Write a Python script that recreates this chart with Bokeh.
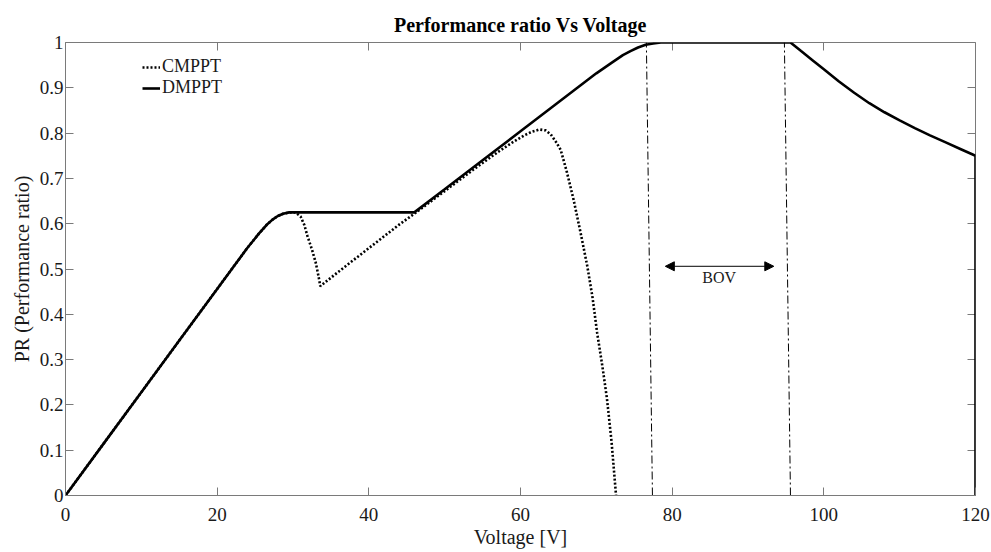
import numpy as np
from bokeh.plotting import figure
from bokeh.models import (LinearAxis, Range1d, Arrow, NormalHead, Legend, LegendItem,
                          FixedTicker, Label, NumeralTickFormatter, CustomLabelingPolicy)
from bokeh.embed import file_html
from bokeh.resources import INLINE

# ---------------- data ----------------
dmppt_v = [0, 5, 10, 15, 20, 24, 25.5, 26.5, 27.3, 28, 28.7, 29.5,
           46, 50, 55, 60, 65, 70, 72, 73.5, 74.5, 75.5, 76.5, 77.5, 78.5,
           95.6, 97, 98.5, 100, 102, 104, 106, 108, 110, 112, 114, 116, 118, 120, 120]
dmppt_pr = [0, 0.114, 0.228, 0.342, 0.456, 0.547, 0.578, 0.597, 0.609, 0.617, 0.622, 0.625,
            0.625, 0.676, 0.740, 0.804, 0.868, 0.932, 0.955, 0.972, 0.981, 0.989, 0.995, 0.998, 1.0,
            1.0, 0.981, 0.961, 0.941, 0.914, 0.889, 0.866, 0.846, 0.828, 0.811, 0.795, 0.780, 0.765, 0.750, 0.0]

cmppt_v = [0, 5, 10, 15, 20, 24, 25.5, 26.5, 27.3, 28, 28.7, 29.5,
           30.3, 31.0, 31.5, 31.9, 32.5, 33.0, 33.4, 33.6,
           36, 40, 44, 46, 50, 54, 57, 59, 60.5, 61.5, 62.5, 63.3, 64, 64.7,
           65.3, 66.1, 67.0, 67.9, 68.8, 69.5, 70.1, 70.8, 71.4, 72.0, 72.6]
cmppt_pr = [0, 0.114, 0.228, 0.342, 0.456, 0.547, 0.578, 0.597, 0.609, 0.617, 0.622, 0.625,
            0.625, 0.616, 0.597, 0.573, 0.543, 0.514, 0.481, 0.462,
            0.494, 0.546, 0.598, 0.622, 0.672, 0.722, 0.758, 0.780, 0.795, 0.803, 0.808, 0.806, 0.797, 0.780,
            0.763, 0.715, 0.653, 0.582, 0.507, 0.437, 0.360, 0.285, 0.214, 0.120, 0.0]

bov_left_v = [76.6, 77.4]
bov_right_v = [94.8, 95.6]
bov_pr = [0.0, 1.0]
bov_arrow_v = [79.1, 93.4]
bov_arrow_pr = 0.506
bov_text_v = 86.2
bov_text_pr = 0.481

x_ticks = [0, 20, 40, 60, 80, 100, 120]
y_ticks = [0, 0.1, 0.2, 0.3, 0.4, 0.5, 0.6, 0.7, 0.8, 0.9, 1.0]

# ---------------- styling ----------------
FONT = "Liberation Serif"
GRAY = "#7a7a7a"
TXT = "#1a1a1a"

p = figure(width=990, height=550, output_backend="svg", toolbar_location=None,
           x_range=Range1d(0, 120), y_range=Range1d(0, 1),
           min_border_left=65, min_border_right=15, min_border_top=42, min_border_bottom=52,
           title="Performance ratio Vs Voltage")
p.title.align = "center"
p.title.text_font = FONT
p.title.text_font_size = "20px"
p.title.text_font_style = "bold"
p.title.text_color = "black"
p.title.standoff = 6
p.xgrid.visible = False
p.ygrid.visible = False
p.outline_line_color = GRAY
p.background_fill_color = "white"
p.border_fill_color = "white"

for ax in (p.xaxis[0], p.yaxis[0]):
    ax.axis_line_color = GRAY
    ax.major_tick_line_color = GRAY
    ax.major_tick_in = 8
    ax.major_tick_out = 0
    ax.minor_tick_line_color = None
    ax.major_label_text_font = FONT
    ax.major_label_text_font_size = "19px"
    ax.major_label_text_color = TXT
    ax.axis_label_text_font = FONT
    ax.axis_label_text_font_size = "20px"
    ax.axis_label_text_font_style = "normal"
    ax.axis_label_text_color = TXT

p.xaxis[0].ticker = FixedTicker(ticks=x_ticks)
p.yaxis[0].ticker = FixedTicker(ticks=y_ticks)
p.yaxis[0].formatter = NumeralTickFormatter(format="0.[0]")
p.xaxis[0].axis_label = "Voltage [V]"
p.yaxis[0].axis_label = "PR (Performance ratio)"
p.xaxis[0].major_label_standoff = 12
p.yaxis[0].major_label_standoff = 2
p.xaxis[0].axis_label_standoff = 2
p.yaxis[0].axis_label_standoff = 4

# mirror ticks on top and right (no labels drawn), drawn beneath the curves
no_labels = CustomLabelingPolicy(code="return new Set()")
top_ax = LinearAxis(ticker=FixedTicker(ticks=x_ticks), major_label_text_font_size="1px",
                    major_label_policy=no_labels, level="underlay",
                    major_tick_in=8, major_tick_out=0, minor_tick_line_color=None,
                    axis_line_color=GRAY, major_tick_line_color=GRAY, major_label_standoff=0)
right_ax = LinearAxis(ticker=FixedTicker(ticks=y_ticks), major_label_text_font_size="1px",
                      major_label_policy=no_labels, level="underlay",
                      major_tick_in=8, major_tick_out=0, minor_tick_line_color=None,
                      axis_line_color=GRAY, major_tick_line_color=GRAY, major_label_standoff=0)
p.add_layout(top_ax, "above")
p.add_layout(right_ax, "right")

# ---------------- glyphs ----------------
r_d = p.line(dmppt_v, dmppt_pr, line_color="black", line_width=2.6)
r_c = p.line(cmppt_v, cmppt_pr, line_color="black", line_width=2.6, line_dash="2 2")

p.line(bov_left_v[::-1], bov_pr, line_color="black", line_width=1, line_dash="8 3 2 3")
p.line(bov_right_v[::-1], bov_pr, line_color="black", line_width=1, line_dash="8 3 2 3")

p.add_layout(Arrow(x_start=bov_arrow_v[0], x_end=bov_arrow_v[1], y_start=bov_arrow_pr, y_end=bov_arrow_pr,
                   line_color="black", line_width=1,
                   start=NormalHead(size=9, fill_color="black", line_color="black", line_width=1),
                   end=NormalHead(size=9, fill_color="black", line_color="black", line_width=1)))
p.add_layout(Label(x=bov_text_v, y=bov_text_pr, text="BOV", text_font=FONT, text_font_size="16px",
                   text_color=TXT, text_align="center", text_baseline="middle"))

legend = Legend(items=[LegendItem(label="CMPPT", renderers=[r_c]),
                       LegendItem(label="DMPPT", renderers=[r_d])],
                location=(77, 397))
legend.border_line_color = None
legend.background_fill_alpha = 0
legend.padding = 0
legend.margin = 0
legend.spacing = 0
legend.glyph_width = 18
legend.glyph_height = 20
legend.label_height = 20
legend.label_standoff = 2
legend.label_text_font = FONT
legend.label_text_font_size = "18px"
legend.label_text_color = TXT
p.add_layout(legend, "center")

open("out.html", "w").write(file_html(p, INLINE))
